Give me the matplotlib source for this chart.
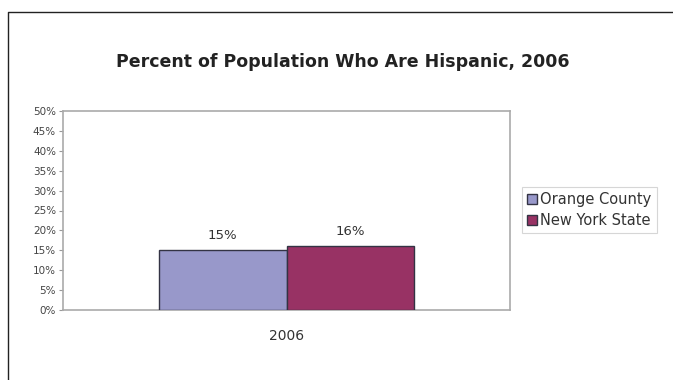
import matplotlib
matplotlib.use("Agg")
import matplotlib.pyplot as plt
from matplotlib.lines import Line2D
from matplotlib.ticker import PercentFormatter

plt.rcParams['font.family'] = ['DejaVu Sans']

years = ["2006"]
series = ["Orange County", "New York State"]
values = [15, 16]
colors = ["#9898CA", "#983264"]

W, H = 673, 380
fig = plt.figure(figsize=(W / 100, H / 100), dpi=100)

# outer chart frame (left and top edges)
fig.add_artist(Line2D([8 / W, 8 / W, 1.0], [0.0, 1 - 12 / H, 1 - 12 / H],
                      transform=fig.transFigure, color="#222222", lw=1.0))

ax = fig.add_axes([63 / W, 1 - 310 / H, (510 - 63) / W, (310 - 111) / H])

width = 0.285
offsets = [-width / 2, width / 2]
for name, v, c, off in zip(series, values, colors, offsets):
    ax.bar(off, v, width=width, color=c, edgecolor="#333344", linewidth=1.0,
           label=name, zorder=3)
    ax.text(off, v + 2.0, f"{v}%", ha="center", va="bottom", fontsize=9.5,
            color="#333333")

ax.set_xlim(-0.5, 0.5)
ax.set_ylim(0, 50)
ax.set_yticks(range(0, 51, 5))
ax.yaxis.set_major_formatter(PercentFormatter(decimals=0))
ax.set_xticks([0])
ax.set_xticklabels(years)
ax.tick_params(axis="x", length=0, pad=14, labelsize=10, colors="#333333")
ax.tick_params(axis="y", length=3, width=0.8, color="#999999", pad=2,
               labelsize=7.5, labelcolor="#444444")
for s in ax.spines.values():
    s.set_color("#AAAAAA")
    s.set_linewidth(1.2)

fig.text(343 / W, 1 - 62 / H, "Percent of Population Who Are Hispanic, 2006",
         ha="center", va="center", fontsize=12.5, fontweight="bold",
         color="#222222")

leg = fig.legend(loc="center left", bbox_to_anchor=(522 / W, 1 - 210 / H),
                 fontsize=10.5, frameon=True, fancybox=False, handlelength=0.7,
                 handleheight=0.7, handletextpad=0.2, borderpad=0.35,
                 labelspacing=0.4, borderaxespad=0, labelcolor="#333333")
leg.get_frame().set_edgecolor("#CCCCCC")
leg.get_frame().set_linewidth(0.8)

fig.savefig("out.png", dpi=100)
